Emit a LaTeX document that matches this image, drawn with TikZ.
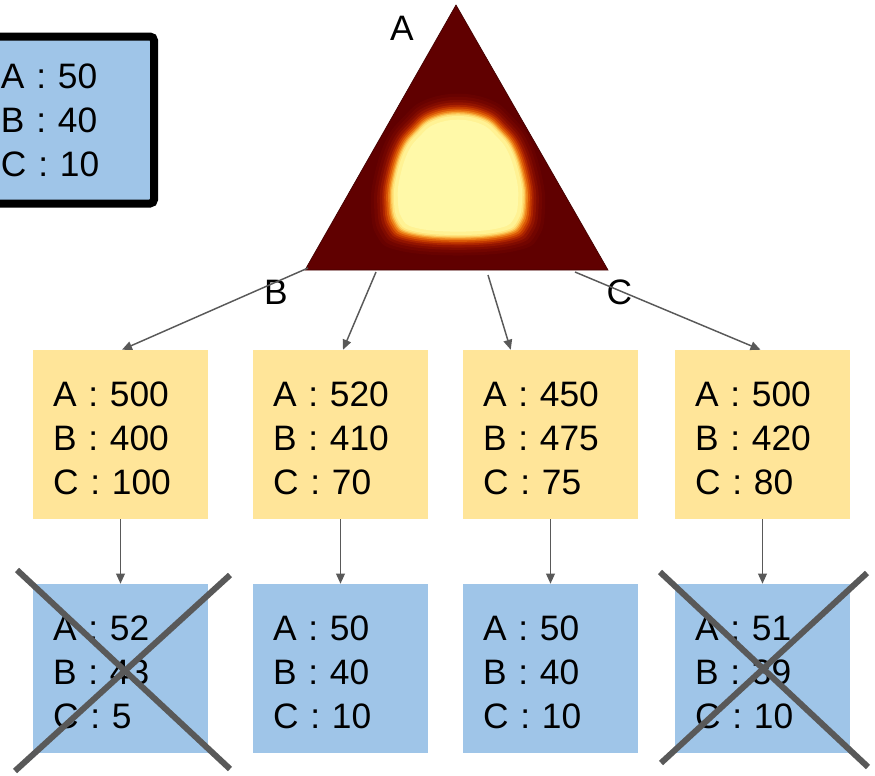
\documentclass[tikz,border=0pt]{standalone}
\usepackage{fontspec}
\setmainfont{Liberation Sans}
\usetikzlibrary{arrows.meta,calc}
\definecolor{boxyellow}{HTML}{FFE599}
\definecolor{boxblue}{HTML}{9FC5E8}
\definecolor{conngray}{HTML}{595959}
\definecolor{heatbg}{HTML}{600000}
\definecolor{hA}{HTML}{680200}
\definecolor{hB}{HTML}{720500}
\definecolor{hC}{HTML}{800B00}
\definecolor{hD}{HTML}{931400}
\definecolor{hE}{HTML}{AB2300}
\definecolor{hF}{HTML}{C43A00}
\definecolor{hG}{HTML}{DA5806}
\definecolor{hH}{HTML}{EB7E18}
\definecolor{hI}{HTML}{F6A436}
\definecolor{hJ}{HTML}{FCC95C}
\definecolor{hK}{HTML}{FFE47C}
\definecolor{hL}{HTML}{FFF294}
\definecolor{hM}{HTML}{FFF9A8}
\newcommand{\firstline}{\rule{0pt}{23.5pt}}
\begin{document}
\begin{tikzpicture}[x=0.75pt,y=-0.75pt,
  valbox/.style={minimum width=131.25pt, minimum height=126.75pt, inner xsep=15pt, inner ysep=0pt,
    text width=101.25pt, align=left, font=\fontsize{26.5pt}{33pt}\selectfont},
  ybox/.style={valbox, fill=boxyellow},
  bbox/.style={valbox, fill=boxblue},
  conn/.style={draw=conngray, line width=1.1pt, -{Triangle[length=7.5pt,width=6.5pt]}},
  cross/.style={draw=conngray, line width=4.5pt},
  vlabel/.style={font=\fontsize{26.5pt}{33pt}\selectfont, inner sep=0pt}]
\useasboundingbox (0,0) rectangle (875,775);

% legend box top-left
\node[draw=black, line width=6pt, rounded corners=3pt, fill=boxblue,
  minimum width=130.5pt, minimum height=125.25pt, inner xsep=15.75pt, inner ysep=0pt,
  text width=99pt, align=left, font=\fontsize{26.5pt}{33pt}\selectfont]
  (legend) at (67,120) {A : 50\\B : 40\\C : 10};

% heat-map triangle
\coordinate (apex) at (456,5);
\coordinate (cornerB) at (305,270);
\coordinate (cornerC) at (608,270);
\fill[heatbg] (apex) -- (cornerB) -- (cornerC) -- cycle;
\begin{scope}
  \clip (apex) -- (cornerB) -- (cornerC) -- cycle;
  \foreach \s/\c in {1.36/hA,1.31/hB,1.26/hC,1.22/hD,1.18/hE,1.15/hF,1.12/hG,1.09/hH,1.065/hI,1.045/hJ,1.025/hK,1.0/hL,0.94/hM}{
    \fill[\c, shift={(458,178)}, scale=\s] plot[smooth cycle, tension=0.7] coordinates
      {(0,-62) (25,-57) (40,-45) (53,-28) (62,0) (64,22) (60,42) (45,53) (0,57)
       (-45,53) (-60,42) (-64,22) (-62,0) (-53,-28) (-40,-45) (-25,-57)};
  }
\end{scope}
\draw[heatbg!70!black, line width=0.5pt] (apex) -- (cornerB) -- (cornerC) -- cycle;

% corner labels
\node[vlabel] (labA) at (402,28) {A};
\node[vlabel] (labB) at (276,292) {B};
\node[vlabel] (labC) at (619.5,292) {C};

% yellow boxes
\node[ybox] (y1) at (120.5,434.5) {\firstline A : 500\\B : 400\\C : 100};
\node[ybox] (y2) at (340.5,434.5) {\firstline A : 520\\B : 410\\C : 70};
\node[ybox] (y3) at (550.5,434.5) {\firstline A : 450\\B : 475\\C : 75};
\node[ybox] (y4) at (762.5,434.5) {\firstline A : 500\\B : 420\\C : 80};

% blue boxes
\node[bbox] (b1) at (120.5,668.5) {\firstline A : 52\\B : 43\\C : 5};
\node[bbox] (b2) at (340.5,668.5) {\firstline A : 50\\B : 40\\C : 10};
\node[bbox] (b3) at (550.5,668.5) {\firstline A : 50\\B : 40\\C : 10};
\node[bbox] (b4) at (762.5,668.5) {\firstline A : 51\\B : 39\\C : 10};

% connectors from triangle
\coordinate (s1) at (308,268);
\coordinate (s2) at (376,272);
\coordinate (s3) at (488,275);
\coordinate (s4) at (575,272);
\draw[conn] (s1) -- ($(y1.north)+(1.5,0)$);
\draw[conn] (s2) -- ($(y2.north)+(2.5,0)$);
\draw[conn] (s3) -- ($(y3.north west)+(48,0)$);
\draw[conn] (s4) -- ($(y4.north)+(-2,0)$);

% vertical connectors
\draw[conn] (y1.south) -- (b1.north);
\draw[conn] (y2.south) -- (b2.north);
\draw[conn] (y3.south) -- (b3.north);
\draw[conn] (y4.south) -- (b4.north);

% crosses
\draw[cross] (17,570) -- (230,769);
\draw[cross] (230,575) -- (15,771);
\draw[cross] (660,572) -- (868,767);
\draw[cross] (867,573) -- (661,763);
\end{tikzpicture}
\end{document}
